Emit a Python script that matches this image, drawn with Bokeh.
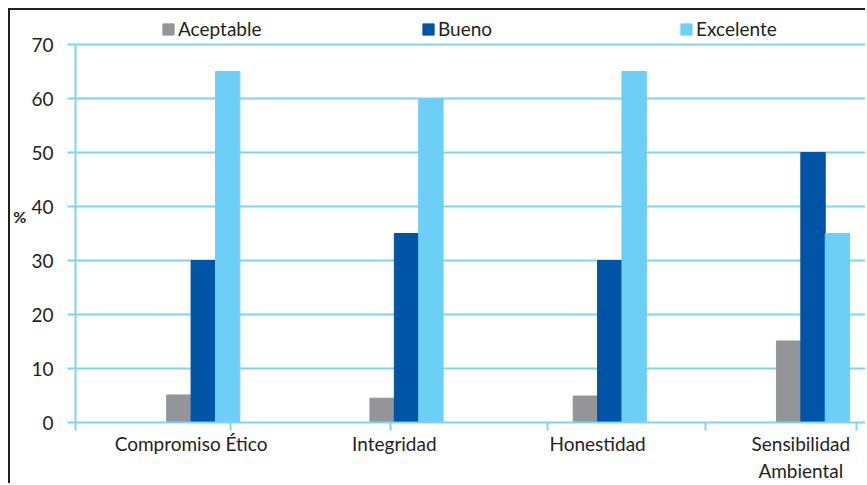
from bokeh.plotting import figure
from bokeh.models import ColumnDataSource, FixedTicker, Legend, LegendItem, Range1d
from bokeh.transform import dodge
from bokeh.embed import file_html
from bokeh.resources import INLINE

categories = ["Compromiso Ético", "Integridad", "Honestidad", "Sensibilidad\nAmbiental"]
aceptable = [5.1, 4.5, 4.9, 15.1]
bueno = [30, 35, 30, 50]
excelente = [65, 60, 65, 35]
y_ticks = [0, 10, 20, 30, 40, 50, 60, 70]

GRAY = "#939598"
DARK = "#0054A6"
LIGHT = "#6DCFF6"
GRID = "#7FD3F5"
TEXT = "#231F20"
FONT = "Lato"

idx = list(range(len(categories)))
src = ColumnDataSource(dict(x=idx, a=aceptable, b=bueno, e=excelente))

p = figure(width=857, height=475, output_backend="svg", toolbar_location=None,
           x_range=Range1d(-0.5686, 3.328), y_range=Range1d(0, 76.3),
           min_border_left=62, min_border_right=0, min_border_top=0, min_border_bottom=63)
p.styles = {"margin-left": "8px", "margin-top": "8px",
            "border-top": "2px solid #231F20", "border-left": "2px solid #231F20"}
p.outline_line_color = None
p.background_fill_color = "white"

w = 0.12
ra = p.vbar(x=dodge("x", -0.06, range=p.x_range), top="a", width=w, source=src, color=GRAY)
rb = p.vbar(x=dodge("x", 0.06, range=p.x_range), top="b", width=w, source=src, color=DARK)
re = p.vbar(x=dodge("x", 0.18, range=p.x_range), top="e", width=w, source=src, color=LIGHT)

# axes
p.xaxis.ticker = FixedTicker(ticks=idx, minor_ticks=[-0.5686, 0.196, 0.98, 1.755, 2.53, 3.275])
p.xaxis.major_label_overrides = {i: c for i, c in zip(idx, categories)}
p.xaxis.major_tick_out = 0
p.xaxis.major_tick_in = 0
p.xaxis.minor_tick_out = 8
p.xaxis.minor_tick_in = 0
p.xaxis.minor_tick_line_color = GRID
p.xaxis.minor_tick_line_width = 2
p.xaxis.axis_line_color = GRID
p.xaxis.axis_line_width = 2
p.xaxis.major_label_text_font = FONT
p.xaxis.major_label_text_font_size = "19px"
p.xaxis.major_label_text_color = TEXT
p.xaxis.major_label_standoff = 1

p.yaxis.ticker = FixedTicker(ticks=y_ticks)
p.yaxis.bounds = (0, 70)
p.yaxis.minor_tick_line_color = None
p.yaxis.major_tick_out = 8
p.yaxis.major_tick_in = 0
p.yaxis.major_tick_line_color = GRID
p.yaxis.major_tick_line_width = 2
p.yaxis.axis_line_color = GRID
p.yaxis.axis_line_width = 2
p.yaxis.major_label_text_font = FONT
p.yaxis.major_label_text_font_size = "19px"
p.yaxis.major_label_text_color = TEXT
p.yaxis.major_label_standoff = 14
p.yaxis.axis_label = "%"
p.yaxis.axis_label_text_font = FONT
p.yaxis.axis_label_text_font_size = "16px"
p.yaxis.axis_label_text_font_style = "bold"
p.yaxis.axis_label_text_color = TEXT
p.yaxis.axis_label_standoff = 2
p.yaxis.axis_label_orientation = "horizontal"

p.xgrid.grid_line_color = None
p.ygrid.grid_line_color = GRID
p.ygrid.grid_line_width = 2

for r, lab, xloc in [(ra, "Aceptable", 86), (rb, "Bueno", 346), (re, "Excelente", 604)]:
    lg = Legend(items=[LegendItem(label=lab, renderers=[r])], location=(xloc, 382),
                orientation="horizontal", padding=0, margin=0, border_line_color=None,
                background_fill_alpha=0, glyph_width=14, glyph_height=14, label_standoff=3,
                label_text_font=FONT, label_text_font_size="19px", label_text_color=TEXT)
    p.add_layout(lg, "center")

open("out.html", "w").write(file_html(p, INLINE))
